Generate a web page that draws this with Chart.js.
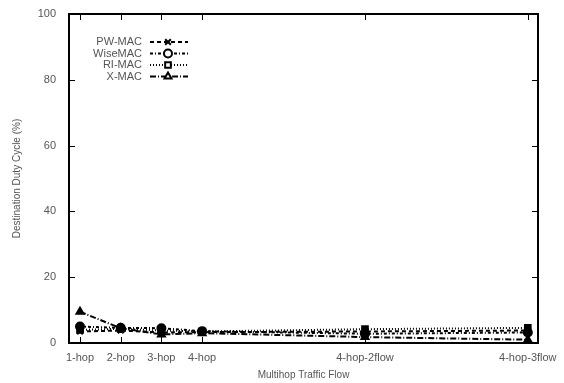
<!DOCTYPE html>
<html>
<head>
<meta charset="utf-8">
<script src="https://cdn.jsdelivr.net/npm/chart.js@4/dist/chart.umd.min.js"></script>
<style>
  html, body { margin: 0; padding: 0; background: #fff; }
  #wrap { width: 564px; height: 383px; }
</style>
</head>
<body>
<div id="wrap"><canvas id="grafiek"></canvas></div>
<script>
// waarden
const xPosities = [1, 2, 3, 4, 8, 12];
const xLabels = ["1-hop", "2-hop", "3-hop", "4-hop", "4-hop-2flow", "4-hop-3flow"];
const yTicks = [0, 20, 40, 60, 80, 100];

const pwMac   = [3.5, 3.8, 3.2, 3.3, 3.5, 3.8];
const wiseMac = [5.0, 4.6, 4.5, 3.6, 2.8, 3.2];
const riMac   = [4.0, 4.3, 3.8, 3.5, 4.2, 4.6];
const xMac    = [9.5, 4.5, 2.6, 3.0, 1.8, 1.0];

const reeksen = [
    { naam: "PW-MAC",  data: pwMac,   punt: "crossRot", streep: [4, 3] },
    { naam: "WiseMAC", data: wiseMac, punt: "circle",   streep: [3, 2, 1, 2] },
    { naam: "RI-MAC",  data: riMac,   punt: "rect",     streep: [1, 2] },
    { naam: "X-MAC",   data: xMac,    punt: "triangle", streep: [6, 2, 1, 2] },
];

const tekstKleur = "#555";
const lettertype = "'Liberation Sans', Arial, sans-serif";

// tikjes naar binnen, op alle vier de zijden (gnuplot-stijl)
const binnenTikjes = {
    id: "binnenTikjes",
    afterDraw(chart) {
        const ctx = chart.ctx;
        const a = chart.chartArea;
        const x = chart.scales.x, y = chart.scales.y;
        ctx.save();
        ctx.strokeStyle = "#000";
        ctx.lineWidth = 1;
        ctx.beginPath();
        xPosities.forEach(v => {
            const px = Math.round(x.getPixelForValue(v)) + 0.5;
            ctx.moveTo(px, a.bottom); ctx.lineTo(px, a.bottom - 6);
            ctx.moveTo(px, a.top); ctx.lineTo(px, a.top + 6);
        });
        yTicks.forEach(v => {
            const py = Math.round(y.getPixelForValue(v)) + 0.5;
            ctx.moveTo(a.left, py); ctx.lineTo(a.left + 6, py);
            ctx.moveTo(a.right, py); ctx.lineTo(a.right - 6, py);
        });
        ctx.stroke();
        ctx.lineWidth = 2;
        ctx.strokeRect(a.left, a.top, a.right - a.left, a.bottom - a.top);
        ctx.restore();
    }
};

// legenda zoals gnuplot: tekst rechts uitgelijnd, dan lijnvoorbeeld
const gnuplotLegenda = {
    id: "gnuplotLegenda",
    afterDraw(chart) {
        const ctx = chart.ctx;
        ctx.save();
        ctx.font = "11px " + lettertype;
        ctx.textAlign = "right";
        ctx.textBaseline = "middle";
        reeksen.forEach((r, i) => {
            const yy = 42 + i * 11.5;
            ctx.fillStyle = tekstKleur;
            ctx.fillText(r.naam, 142, yy);
            ctx.strokeStyle = "#000";
            ctx.lineWidth = 2;
            ctx.setLineDash(r.streep);
            ctx.beginPath();
            ctx.moveTo(150, yy); ctx.lineTo(188, yy);
            ctx.stroke();
            ctx.setLineDash([]);
            ctx.fillStyle = "#fff";
            Chart.helpers.drawPoint(ctx, {
                pointStyle: r.punt, radius: 4, borderWidth: 2
            }, 168, yy);
        });
        ctx.restore();
    }
};

new Chart(document.getElementById("grafiek"), {
    type: "line",
    data: {
        datasets: reeksen.map(r => ({
            label: r.naam,
            data: r.data.map((v, i) => ({ x: xPosities[i], y: v })),
            borderColor: "#000",
            backgroundColor: "#fff",
            borderWidth: 2,
            borderDash: r.streep,
            pointStyle: r.punt,
            pointRadius: 4,
            pointBorderWidth: 2,
            pointBorderColor: "#000",
            pointBackgroundColor: "#000",
            tension: 0,
        })),
    },
    options: {
        responsive: true,
        maintainAspectRatio: false,
        animation: false,
        layout: { padding: { top: 14, right: 26, left: 0, bottom: 0 } },
        plugins: {
            legend: { display: false },
            tooltip: { enabled: false },
        },
        scales: {
            x: {
                type: "linear",
                min: 0.73,
                max: 12.25,
                afterBuildTicks: s => { s.ticks = xPosities.map(v => ({ value: v })); },
                afterFit: s => { s.height = 40; },
                grid: { display: false },
                border: { display: false },
                ticks: {
                    padding: 0,
                    color: tekstKleur,
                    font: { size: 11, family: lettertype },
                    maxRotation: 0,
                    autoSkip: false,
                    callback: v => xLabels[xPosities.indexOf(v)] || "",
                },
                title: {
                    display: true,
                    text: "Multihop Traffic Flow",
                    color: tekstKleur,
                    font: { size: 10, family: lettertype },
                    padding: { top: 2, bottom: 2 },
                },
            },
            y: {
                min: 0,
                max: 100,
                afterBuildTicks: s => { s.ticks = yTicks.map(v => ({ value: v })); },
                afterFit: s => { s.width = 69; },
                grid: { display: false },
                border: { display: false },
                ticks: {
                    padding: 5,
                    color: tekstKleur,
                    font: { size: 11, family: lettertype },
                },
                title: {
                    display: true,
                    text: "Destination Duty Cycle (%)",
                    color: tekstKleur,
                    font: { size: 10, family: lettertype },
                    padding: { top: 11, bottom: 0 },
                },
            },
        },
    },
    plugins: [binnenTikjes, gnuplotLegenda],
});
</script>
</body>
</html>
